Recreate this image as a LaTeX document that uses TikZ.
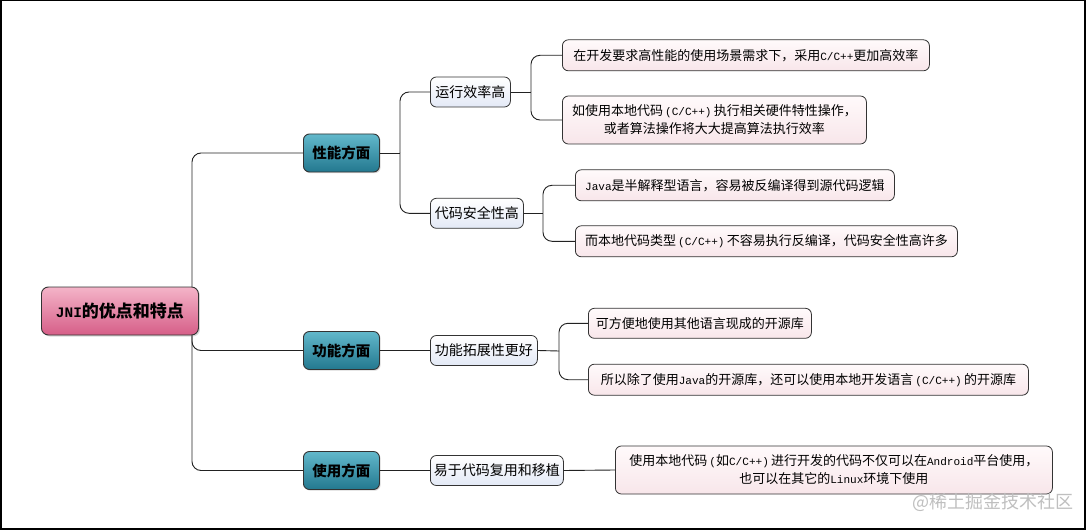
\documentclass[tikz,border=0pt]{standalone}
\usepackage{fontspec}
\setmainfont{Noto Sans CJK SC}
\newfontfamily\monofam{Liberation Mono}[Scale=0.85]
\newcommand{\mtx}[1]{{\monofam #1}}
\usetikzlibrary{shadows}
\definecolor{conncol}{HTML}{222222}
\definecolor{rootTop}{HTML}{F4B4C8}
\definecolor{rootBot}{HTML}{D65E88}
\definecolor{tealTop}{HTML}{62B8CB}
\definecolor{tealBot}{HTML}{23788F}
\definecolor{blueTop}{HTML}{FFFFFF}
\definecolor{blueBot}{HTML}{E3E9F6}
\definecolor{pinkTop}{HTML}{FFFAFB}
\definecolor{pinkBot}{HTML}{F8E6EA}
\definecolor{edgecol}{HTML}{333333}
\begin{document}
\begin{tikzpicture}[x=1pt,y=-1pt,
  conn/.style={draw=conncol, line width=0.9pt},
  rconn/.style={conn, rounded corners=9pt},
  rootbox/.style={draw=edgecol, line width=0.9pt, rounded corners=7pt, top color=rootTop, bottom color=rootBot,
     anchor=west, inner sep=0pt, align=center, font=\bfseries\fontsize{17}{20}\selectfont,
     drop shadow={opacity=0.3, shadow xshift=1.5pt, shadow yshift=-1.5pt}},
  mainbox/.style={draw=edgecol, line width=0.9pt, rounded corners=6pt, top color=tealTop, bottom color=tealBot,
     anchor=west, inner sep=0pt, align=center, font=\bfseries\fontsize{14.5}{18}\selectfont,
     drop shadow={opacity=0.3, shadow xshift=1.2pt, shadow yshift=-1.2pt}},
  subbox/.style={draw=edgecol, line width=0.8pt, rounded corners=6pt, top color=blueTop, bottom color=blueBot,
     anchor=west, inner sep=0pt, align=center, font=\fontsize{14}{18}\selectfont},
  leafbox/.style={draw=edgecol, line width=0.8pt, rounded corners=6pt, top color=pinkTop, bottom color=pinkBot,
     anchor=west, inner sep=0pt, align=center, font=\fontsize{13}{18}\selectfont},
]
\useasboundingbox (0,0) rectangle (1090,532);
\fill[white] (0,0) rectangle (1090,532);
\draw[line width=1.5pt] (0.75,0.75) rectangle (1085,529);

% junction coordinates
\coordinate (jroot) at (192,311);
\coordinate (jp1) at (400,153);
\coordinate (jr1) at (531,92);
\coordinate (jr2) at (543,213.3);
\coordinate (jf2) at (559,351);

% level 1
\node[mainbox, minimum width=76, minimum height=38] (p1) at (303,153) {性能方面};
\node[mainbox, minimum width=76, minimum height=38] (p2) at (303,350.5) {功能方面};
\node[mainbox, minimum width=76, minimum height=38] (p3) at (303,470.5) {使用方面};

% level 2
\node[subbox, minimum width=80, minimum height=30] (r1) at (430,92) {运行效率高};
\node[subbox, minimum width=93, minimum height=30] (r2) at (430,213.3) {代码安全性高};
\node[subbox, minimum width=107, minimum height=30] (f2) at (430,350.5) {功能拓展性更好};
\node[subbox, minimum width=133, minimum height=30] (u2) at (430,470.5) {易于代码复用和移植};

% leaves
\node[leafbox, minimum width=367, minimum height=31] (l1) at (562,55.3) {在开发要求高性能的使用场景需求下，采用\mtx{C/C++}更加高效率};
\node[leafbox, minimum width=304, minimum height=48] (l2) at (562,120) {如使用本地代码\,\mtx{(C/C++)}\,执行相关硬件特性操作，\\或者算法操作将大大提高算法执行效率};
\node[leafbox, minimum width=319, minimum height=31] (l3) at (575,185.3) {\mtx{Java}是半解释型语言，容易被反编译得到源代码逻辑};
\node[leafbox, minimum width=382, minimum height=31] (l4) at (575,241.3) {而本地代码类型\,\mtx{(C/C++)}\,不容易执行反编译，代码安全性高许多};
\node[leafbox, minimum width=223, minimum height=30] (l5) at (588,323.3) {可方便地使用其他语言现成的开源库};
\node[leafbox, minimum width=440, minimum height=31] (l6) at (588,379.7) {所以除了使用\mtx{Java}的开源库，还可以使用本地开发语言\,\mtx{(C/C++)}\,的开源库};
\node[leafbox, minimum width=437, minimum height=48] (l7) at (615,470) {使用本地代码\,\mtx{(}如\mtx{C/C++)}\,进行开发的代码不仅可以在\mtx{Android}平台使用，\\也可以在其它的\mtx{Linux}环境下使用};

% connectors root
\draw[rconn] (jroot) |- (p1.west);
\draw[rconn] (jroot) |- (p2.west);
\draw[rconn] (jroot) |- (p3.west);

% level1 -> level2
\draw[conn] (p1.east) -- (jp1);
\draw[rconn] (jp1) |- (r1.west);
\draw[rconn] (jp1) |- (r2.west);
\draw[conn] (p2.east) -- (f2.west);
\draw[conn] (p3.east) -- (u2.west);

% level2 -> leaves
\draw[conn] (r1.east) -- (jr1);
\draw[rconn] (jr1) |- (l1.west);
\draw[rconn] (jr1) |- (l2.west);
\draw[conn] (r2.east) -- (jr2);
\draw[rconn] (jr2) |- (l3.west);
\draw[rconn] (jr2) |- (l4.west);
\draw[conn] (f2.east) -- (jf2);
\draw[rconn] (jf2) |- (l5.west);
\draw[rconn] (jf2) |- (l6.west);
\draw[conn] (u2.east) -- (l7.west);

% root on top
\node[rootbox, minimum width=157, minimum height=48] (root) at (41,311) {\mtx{JNI}的优点和特点};

% watermark
\node[text=black!25, font=\fontsize{18}{18}\selectfont, inner sep=0pt] (wm) at (993,502) {@稀土掘金技术社区};
\end{tikzpicture}
\end{document}
